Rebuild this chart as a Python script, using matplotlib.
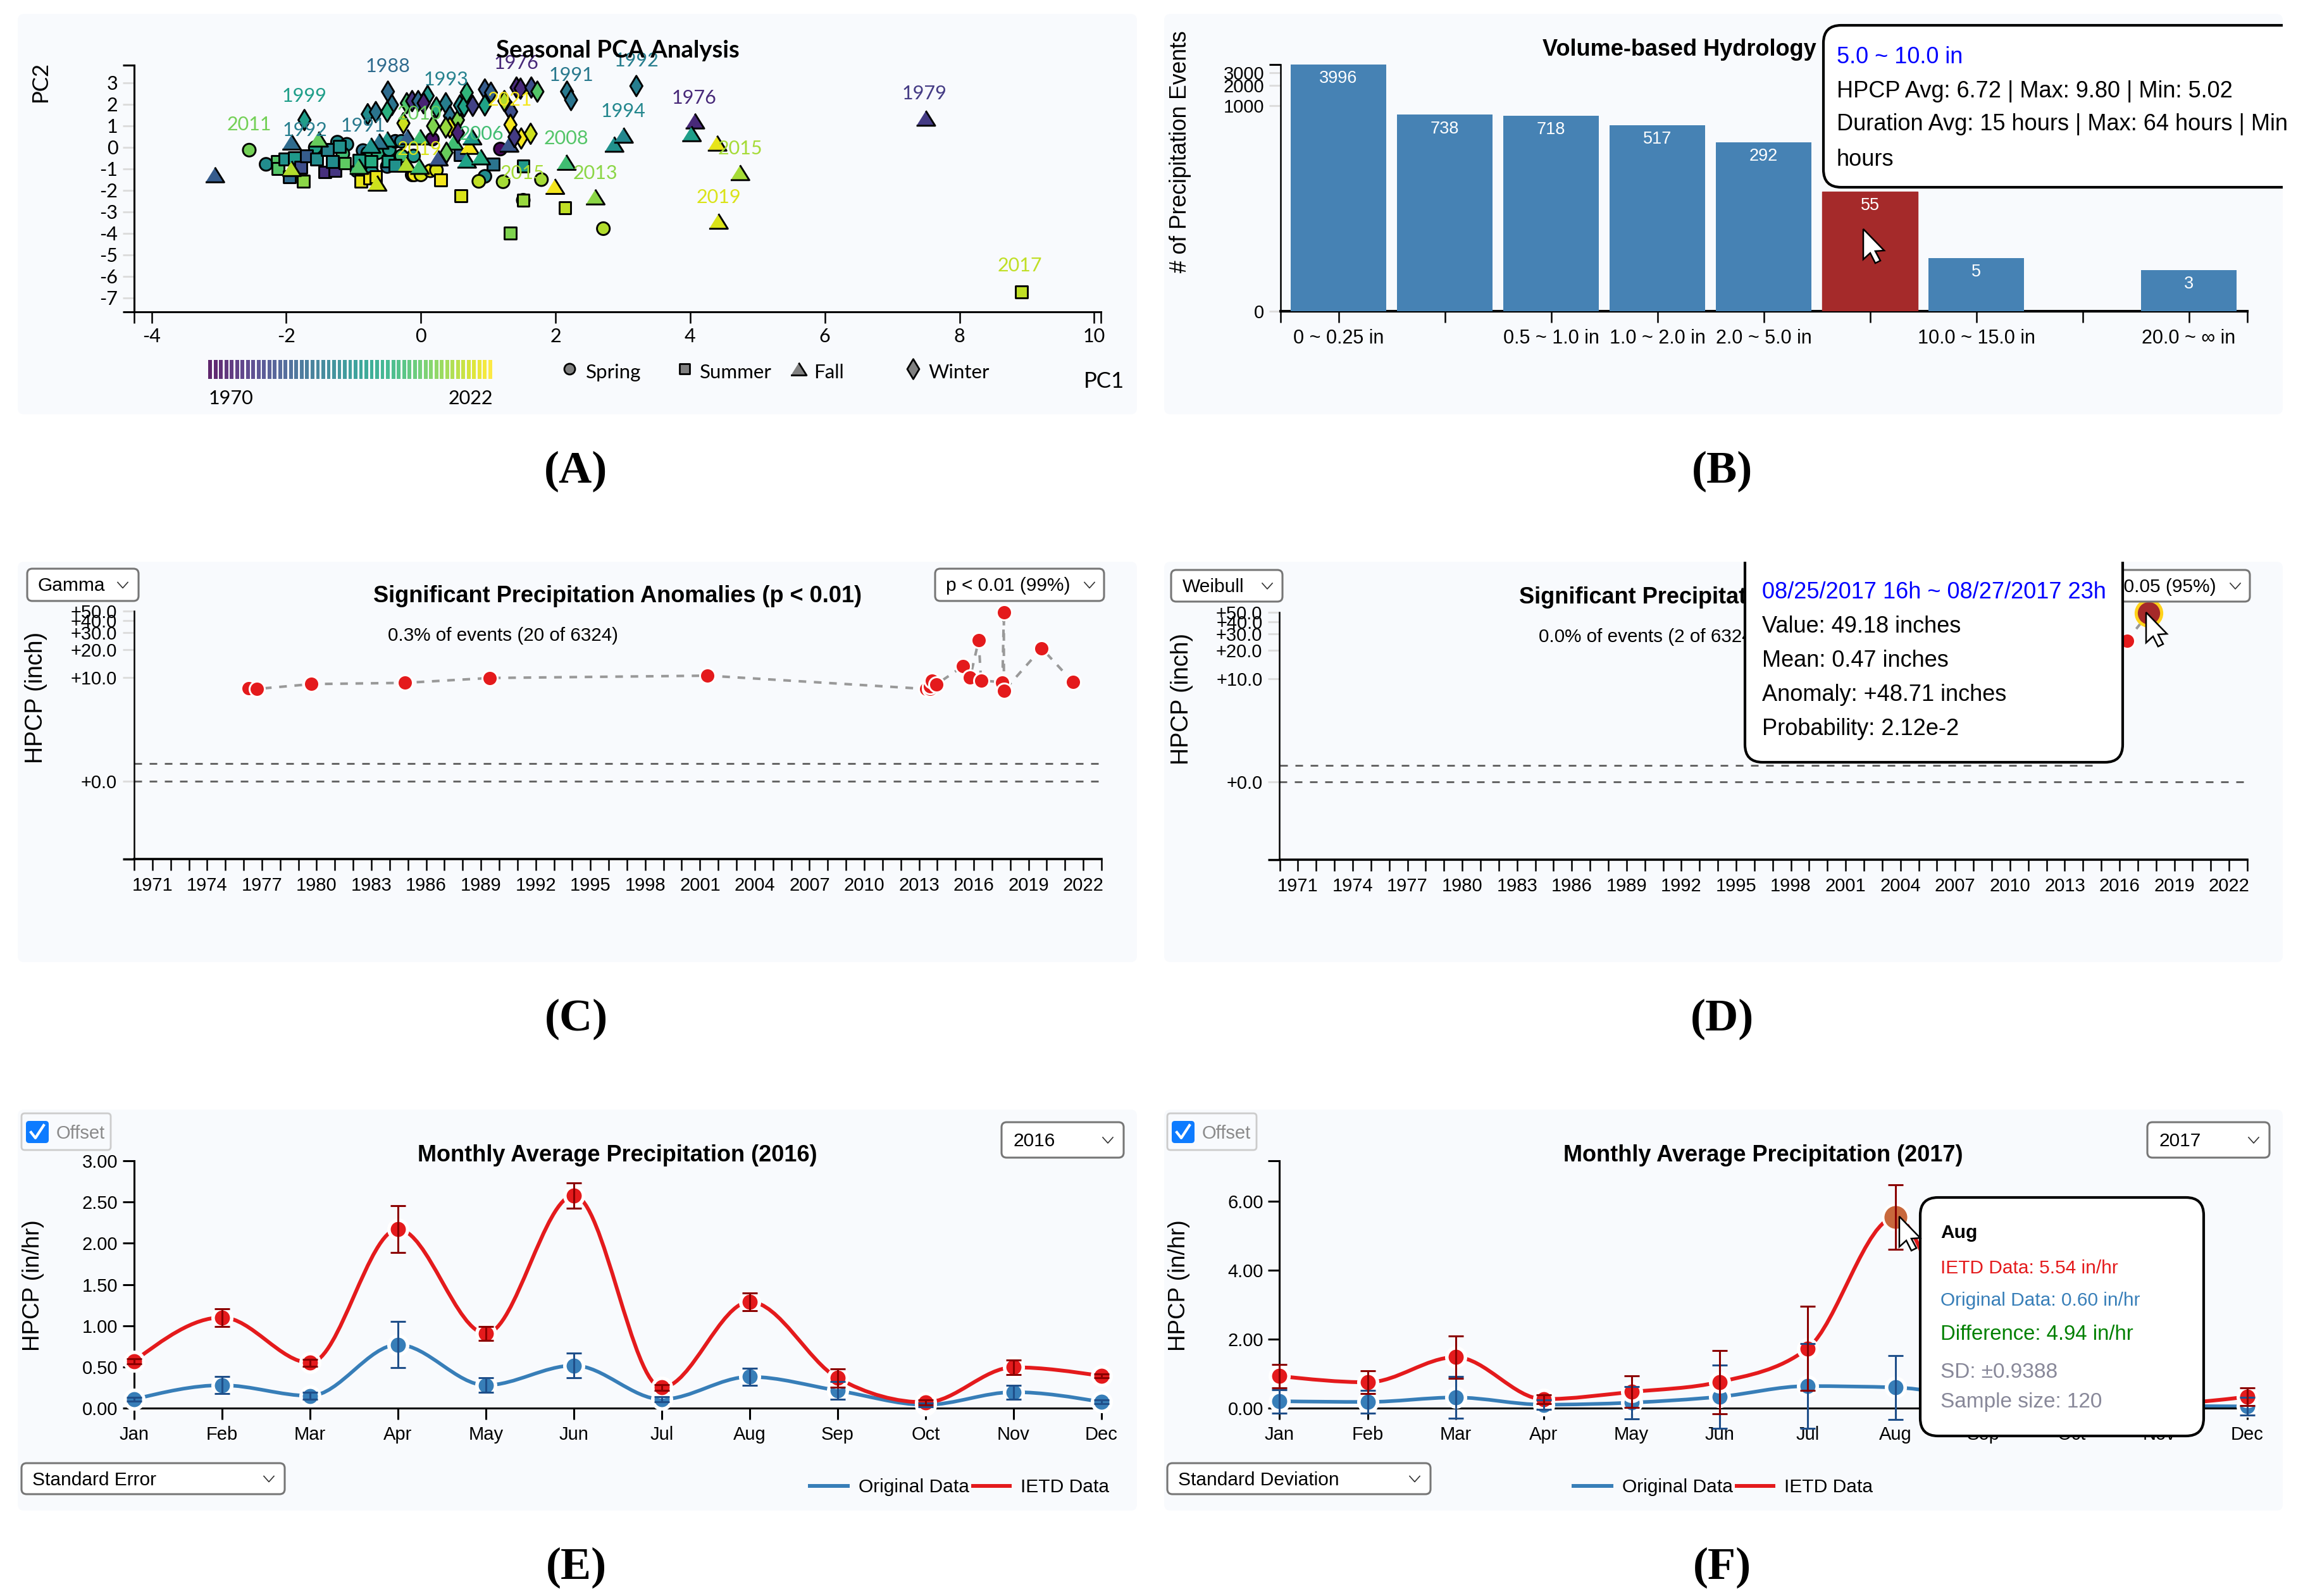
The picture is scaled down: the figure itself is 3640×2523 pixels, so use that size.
import numpy as np
import matplotlib
matplotlib.use('Agg')
from matplotlib import pyplot as plt
from matplotlib.path import Path
from matplotlib.patches import FancyBboxPatch, PathPatch, Polygon, Rectangle

plt.rcParams['font.family'] = ['Liberation Sans', 'DejaVu Sans']

W, H = 3641, 2523

# panel A: pca points per season
spring_x = [-2.55, -2.30, -1.57, -1.24, -1.10, -1.16, -0.86, -0.79, -0.64, -0.47, -0.38, -0.29, -0.95, -0.73, -0.50, -0.13, -0.10, 0.0, 0.14, 0.23, 0.17, 1.18, 0.95, 0.86, 1.22, 1.79, 2.71, 1.52, -0.11, -0.29]
spring_y = [-0.13, -0.79, -0.01, 0.24, 0.14, -0.30, -0.15, -0.27, -0.25, -0.11, 0.28, 0.28, -1.09, -1.14, -0.89, -1.28, -1.28, -1.28, -1.09, -1.06, 0.38, -0.08, -1.35, -1.58, -1.60, -1.50, -3.78, -2.46, -0.40, -0.40]
spring_year = [2011, 1995, 2000, 1995, 1995, 2006, 1990, 2004, 2003, 1998, 1988, 1994, 2000, 1997, 1990, 1975, 2021, 2019, 2021, 2019, 1972, 1971, 1995, 2017, 2015, 2015, 2016, 2012, 1998, 2006]

summer_x = [-2.13, -2.12, -2.02, -1.88, -1.95, -1.75, -1.78, -1.70, -1.55, -1.43, -1.28, -1.21, -1.31, -1.39, -1.13, -0.92, -0.74, -0.89, -0.76, -0.67, -0.49, -0.38, 0.29, 0.58, 1.07, 1.52, 0.59, 1.52, 2.14, 1.33, 8.92]
summer_y = [-0.65, -1.0, -0.55, -0.50, -1.38, -1.58, -0.94, -0.40, -0.55, -1.15, -1.09, 0.04, -0.67, -0.11, -0.74, -0.60, -0.65, -1.58, -1.43, -1.38, -0.65, -0.84, -1.53, -0.35, -0.77, -0.86, -2.26, -2.46, -2.81, -3.98, -6.72]
summer_year = [2008, 2008, 1996, 1998, 1988, 2013, 1982, 1985, 1995, 1977, 1978, 1996, 1995, 1993, 2009, 2000, 2002, 2020, 2021, 2020, 2000, 1996, 2021, 1985, 1990, 1998, 2019, 2014, 2017, 2012, 2017]

fall_x = [-3.06, -1.92, -1.52, -1.92, -0.92, -0.65, -0.21, -0.02, -0.50, -0.62, -0.74, -0.20, -0.01, 0.49, 0.72, 0.76, 0.68, 0.89, 0.26, 1.31, 2.16, 1.99, 2.59, 2.87, 3.01, 4.07, 4.02, 4.40, 4.74, 4.42, 7.50]
fall_y = [-1.28, 0.24, 0.38, -0.99, -0.89, -1.67, -0.79, -0.89, 0.38, 0.28, 0.09, 0.48, 0.48, 0.24, 0.04, 0.48, -0.60, -0.45, -0.50, 0.14, -0.70, -1.82, -2.31, 0.14, 0.56, 1.22, 0.63, 0.19, -1.18, -3.44, 1.35]
fall_year = [1985, 1988, 2010, 2016, 2008, 2018, 2016, 2006, 1998, 1990, 1997, 1986, 2006, 2006, 2021, 1998, 2000, 2002, 1984, 1984, 2006, 2021, 2013, 1996, 1994, 1976, 1999, 2020, 2015, 2019, 1979]

winter_x = [-0.49, -0.43, -0.79, -0.67, -0.50, -0.21, -0.13, -0.04, 0.10, 0.04, 0.23, 0.37, 0.43, 0.55, 0.43, 0.37, 0.18, -0.26, 0.58, 0.64, 0.77, 0.68, 0.95, 1.04, 0.95, 1.24, 1.34, 1.33, 1.42, 1.48, 1.64, 1.73, 2.17, 2.23, 3.20, -1.73, 1.49, 1.63, 1.39, 0.38, 0.55]
winter_y = [2.59, 1.97, 1.54, 1.64, 1.66, 2.05, 2.15, 2.15, 2.39, 2.05, 1.85, 2.05, 1.46, 1.27, 0.92, 0.92, 0.99, 1.12, 1.95, 1.90, 1.93, 2.54, 2.69, 2.54, 1.95, 2.15, 1.66, 1.05, 2.78, 2.73, 2.78, 2.59, 2.59, 2.20, 2.85, 1.27, 0.41, 0.63, 0.48, -0.25, 0.68]
winter_year = [1988, 1990, 1995, 1990, 2003, 2007, 1978, 1988, 1998, 1975, 2003, 1992, 1990, 2012, 2020, 2014, 2012, 2018, 1995, 2000, 1980, 2004, 1985, 1986, 2000, 2016, 1982, 2021, 1976, 1976, 1982, 2008, 1991, 1990, 1992, 1999, 2021, 2018, 1979, 2010, 1975]

label_year = [1988, 1993, 1976, 1992, 1991, 1999, 2021, 2010, 1976, 1979, 1994, 2011, 1992, 1991, 2006, 2008, 2015, 2019, 2015, 2013, 2019, 2017]
label_x = [-0.49, 0.37, 1.42, 3.20, 2.23, -1.73, 1.32, -0.02, 4.06, 7.48, 3.00, -2.55, -1.72, -0.86, 0.90, 2.16, 4.74, -0.02, 1.51, 2.59, 4.42, 8.90]
label_y = [3.77, 3.15, 3.92, 4.04, 3.36, 2.37, 2.20, 1.57, 2.29, 2.50, 1.66, 1.05, 0.80, 1.01, 0.61, 0.41, -0.07, -0.10, -1.22, -1.22, -2.32, -5.49]

# panel B: events per volume bin
bin_names = ['0 ~ 0.25 in', '', '0.5 ~ 1.0 in', '1.0 ~ 2.0 in', '2.0 ~ 5.0 in', '', '10.0 ~ 15.0 in', '', '20.0 ~ ∞ in']
bin_counts = [3996, 738, 718, 517, 292, 55, 5, 0, 3]

# panel C and D: anomalies
anom_year = [1976.28, 1976.72, 1979.71, 1984.84, 1989.49, 2001.42, 2013.4, 2013.6, 2013.62, 2013.7, 2013.95, 2015.4, 2015.8, 2016.27, 2016.4, 2017.57, 2017.65, 2017.65, 2019.72, 2021.43]
anom_val = [7.6, 7.42, 8.42, 8.7, 9.85, 10.45, 7.42, 7.4, 8.0, 9.14, 8.35, 13.2, 9.9, 24.9, 9.26, 8.83, 48.7, 7.05, 20.6, 8.9]
weib_year = [2016.4, 2017.6]
weib_val = [25.3, 49.18]
hpcp_ticks = [0, 10, 20, 30, 40, 50]
year_ticks = list(range(1970, 2024))

# panel E and F: monthly precipitation
months = ['Jan', 'Feb', 'Mar', 'Apr', 'May', 'Jun', 'Jul', 'Aug', 'Sep', 'Oct', 'Nov', 'Dec']
ietd_2016 = [0.57, 1.10, 0.55, 2.17, 0.905, 2.58, 0.25, 1.29, 0.365, 0.07, 0.495, 0.39]
ietd_2016_se = [0.03, 0.107, 0.04, 0.285, 0.087, 0.153, 0.033, 0.107, 0.108, 0.03, 0.09, 0.024]
orig_2016 = [0.107, 0.278, 0.149, 0.77, 0.278, 0.517, 0.107, 0.38, 0.213, 0.04, 0.194, 0.074]
orig_2016_se = [0.023, 0.103, 0.04, 0.28, 0.087, 0.152, 0.03, 0.105, 0.108, 0.024, 0.085, 0.023]
ietd_2017 = [0.93, 0.75, 1.48, 0.26, 0.47, 0.76, 1.73, 5.54, 0.5, 0.05, 0.1, 0.33]
ietd_2017_sd = [0.34, 0.335, 0.61, 0.13, 0.46, 0.92, 1.22, 0.94, 0.3, 0.05, 0.1, 0.26]
orig_2017 = [0.2, 0.18, 0.31, 0.1, 0.16, 0.33, 0.64, 0.60, 0.25, 0.03, 0.06, 0.05]
orig_2017_sd = [0.34, 0.33, 0.61, 0.14, 0.47, 0.92, 1.23, 0.93, 0.25, 0.03, 0.08, 0.26]

PANEL = '#f8fafd'
RED = '#e41a1c'
BLUE = '#377eb8'

fig = plt.figure(figsize=(W / 100, H / 100), dpi=100, facecolor='white')

bg = fig.add_axes([0, 0, 1, 1], zorder=-1)
bg.set(xlim=(0, W), ylim=(H, 0))
bg.axis('off')
ov = fig.add_axes([0, 0, 1, 1], zorder=5)
ov.set(xlim=(0, W), ylim=(H, 0))
ov.axis('off')
ov.patch.set_alpha(0)


def pixel_axes(l, t, r, b):
    ax = fig.add_axes([l / W, 1 - b / H, (r - l) / W, (b - t) / H], zorder=2)
    ax.patch.set_alpha(0)
    ax.spines[['top', 'right']].set_visible(False)
    return ax


def txt(x, y, s, size=21.5, color='black', ha='left', va='center', **kw):
    return ov.text(x, y, s, fontsize=size, color=color, ha=ha, va=va, **kw)


def dropdown(l, t, r, b, label, text_x, chevron_x):
    ov.add_patch(FancyBboxPatch((l, t), r - l, b - t, boxstyle='round,pad=0,rounding_size=8',
                                fc='white', ec='#767676', lw=2.2))
    cy = (t + b) / 2
    ov.plot([chevron_x - 8, chevron_x, chevron_x + 8], [cy - 4, cy + 5, cy - 4], color='#333333', lw=1.2)
    if label:
        txt(text_x, cy + 2, label)


def cursor(x, y, s=1.0):
    shape = [(0, 0), (0, 48), (11, 38), (19, 54), (27, 50), (19, 35), (33, 34)]
    pts = [(x + px * s, y + py * s) for px, py in shape]
    ov.add_patch(Polygon(pts, closed=True, fc='white', ec='black', lw=1.8, zorder=8))


def tooltip(l, t, r, b, clip):
    box = FancyBboxPatch((l, t), r - l, b - t, boxstyle='round,pad=0,rounding_size=28',
                         fc='white', ec='black', lw=3, zorder=6)
    ov.add_patch(box)
    box.set_clip_path(clip)


def monotone_path(x, y):
    # same curve as d3.curveMonotoneX
    x = np.asarray(x, float)
    y = np.asarray(y, float)
    h = np.diff(x)
    s = np.diff(y) / h
    t = np.zeros(len(x))
    for i in range(1, len(x) - 1):
        p = (s[i - 1] * h[i] + s[i] * h[i - 1]) / (h[i - 1] + h[i])
        t[i] = (np.sign(s[i - 1]) + np.sign(s[i])) * min(abs(s[i - 1]), abs(s[i]), 0.5 * abs(p))
    t[0] = (3 * s[0] - t[1]) / 2
    t[-1] = (3 * s[-1] - t[-2]) / 2
    verts = [(x[0], y[0])]
    codes = [Path.MOVETO]
    for i in range(len(x) - 1):
        d = h[i] / 3
        verts += [(x[i] + d, y[i] + d * t[i]), (x[i + 1] - d, y[i + 1] - d * t[i + 1]), (x[i + 1], y[i + 1])]
        codes += [Path.CURVE4] * 3
    return Path(verts, codes)


# panel backgrounds and letters
panels = {'(A)': (28, 22, 1797, 655), '(B)': (1840, 22, 3608, 655),
          '(C)': (28, 888, 1797, 1521), '(D)': (1840, 888, 3608, 1521),
          '(E)': (28, 1754, 1797, 2388), '(F)': (1840, 1754, 3608, 2388)}
for name, (l, t, r, b) in panels.items():
    bg.add_patch(FancyBboxPatch((l, t), r - l, b - t, boxstyle='round,pad=0,rounding_size=10', fc=PANEL, ec='none'))
    txt((l + r) / 2 - 2, b + 90, name, size=52, ha='center', family='Liberation Serif', weight='bold')

# A
TRI = [(-1, -0.8), (1, -0.8), (0, 0.8)]
LATO = 'Lato'
ax = pixel_axes(212, 103, 1740, 493)
ax.set(xlim=(-4.26, 10.1), ylim=(-7.65, 3.82))
vnorm = dict(cmap='viridis', vmin=1970, vmax=2022, edgecolors='black', linewidths=2.1, clip_on=False)
ax.scatter(spring_x, spring_y, c=spring_year, marker='o', s=210, **vnorm)
ax.scatter(summer_x, summer_y, c=summer_year, marker='s', s=185, **vnorm)
ax.scatter(fall_x, fall_y, c=fall_year, marker=TRI, s=450, **vnorm)
ax.scatter(winter_x, winter_y, c=winter_year, marker='d', s=270, **vnorm)
cmap = plt.get_cmap('viridis')
for yr, lx, ly in zip(label_year, label_x, label_y):
    ax.text(lx, ly, str(yr), fontsize=22, family=LATO, color=cmap((yr - 1970) / 52), ha='center', va='center')
ax.set_xticks(range(-4, 11, 2))
ax.set_yticks(range(-7, 4))
ax.set_yticklabels([str(v) for v in range(-7, 4)], family=LATO)
ax.set_xticklabels([str(v) for v in range(-4, 11, 2)], family=LATO)
ax.tick_params(axis='x', length=13, width=1.8, labelsize=22, pad=5)
ax.tick_params(axis='y', length=13, width=2.2, color='#dddddd', labelsize=22, pad=5.5)
ax.set_xticks([-4.26, 10.1], minor=True)
ax.set_yticks([-7.65, 3.82], minor=True)
ax.tick_params(axis='x', which='minor', length=13, width=1.8)
ax.tick_params(axis='y', which='minor', length=13, width=2.2)
ax.spines[['left', 'bottom']].set_linewidth(2.2)
txt(976, 80, 'Seasonal PCA Analysis', size=27.5, ha='center', family=LATO, weight='bold')
txt(64, 129, 'PC2', size=25, ha='center', rotation=90, family=LATO)
txt(1745, 603, 'PC1', size=25, ha='center', family=LATO)

bar_years = list(range(1970, 2023))
cb = pixel_axes(329, 569, 778, 599)
cb.bar(bar_years, [1] * len(bar_years), width=0.7, color=[cmap((y - 1970) / 52) for y in bar_years], alpha=0.85)
cb.set(xlim=(1969.6, 2022.4), ylim=(0, 1))
cb.axis('off')
txt(365, 630, '1970', size=22, ha='center', family=LATO)
txt(744, 630, '2022', size=22, ha='center', family=LATO)
leg = [('o', 900, 'Spring', 926, 150), ('s', 1082, 'Summer', 1106, 130), (TRI, 1262, 'Fall', 1286, 320), ('d', 1443, 'Winter', 1468, 260)]
for mk, mx, name, tx, sz in leg:
    ov.scatter([mx], [583], marker=mk, s=sz, c='#808080', edgecolors='black', linewidths=2)
    txt(tx, 589, name, size=22.5, family=LATO)

# B
ax = pixel_axes(2024, 102, 3552, 492)
ax.set_yscale('function', functions=(np.log1p, np.expm1))
ax.set(xlim=(-0.545, 8.55), ylim=(0, 3996))
bar_pos = list(range(len(bin_counts)))
bars = ax.bar(bar_pos, bin_counts, width=0.9, color='#4682b4', zorder=3)
bars[5].set_color('#a52a2a')
for i, v in zip(bar_pos, bin_counts):
    if v > 0:
        ax.annotate(str(v), (i, v), xytext=(0, -16), textcoords='offset points', ha='center', va='center',
                    color='white', fontsize=19.5, zorder=4)
ax.set_xticks(bar_pos)
ax.set_xticklabels(bin_names)
ax.set_yticks([0, 1000, 2000, 3000])
ax.set_yticklabels(['0', '1000', '2000', '3000'])
ax.tick_params(axis='x', length=13, width=1.8, labelsize=22, pad=7)
ax.tick_params(axis='y', length=13, width=2.2, color='#dddddd', labelsize=21, pad=5.5)
ax.yaxis.set_minor_locator(matplotlib.ticker.NullLocator())
ax.set_xticks([-0.545, 8.55], minor=True)
ax.set_yticks([3996], minor=True)
ax.set_yticklabels([''], minor=True)
ax.tick_params(axis='x', which='minor', length=13, width=1.8)
ax.tick_params(axis='y', which='minor', length=13, width=2.2)
ax.spines['bottom'].set_linewidth(3)
ax.spines['left'].set_linewidth(1.8)
txt(2654, 78, 'Volume-based Hydrology', size=26, ha='center', weight='bold')
txt(1866, 240, '# of Precipitation Events', size=25.6, ha='center', rotation=90)
clipB = Rectangle((1840, 22), 1768, 633, transform=ov.transData)
tooltip(2882, 40, 3700, 296, clipB)
for ty, s, c in [(90, '5.0 ~ 10.0 in', 'blue'), (144, 'HPCP Avg: 6.72 | Max: 9.80 | Min: 5.02', 'black'),
                 (197, 'Duration Avg: 15 hours | Max: 64 hours | Min', 'black'), (253, 'hours', 'black')]:
    t = txt(2903, ty, s, size=26, color=c, zorder=7)
    t.set_clip_path(clipB)
cursor(2945, 362)


def anomaly_axes(l, t, r, b):
    def fwd(v):
        v = np.asarray(v, float)
        return np.sign(v) * np.log10(1 + np.abs(v))

    def inv(v):
        v = np.asarray(v, float)
        return np.sign(v) * (10 ** np.abs(v) - 1)

    a = pixel_axes(l, t, r, b)
    a.set_yscale('function', functions=(fwd, inv))
    a.set(xlim=(1970, 2023), ylim=(-5.07, 50))
    a.set_xticks(year_ticks)
    a.set_xticklabels([str(y) if (y - 1971) % 3 == 0 else '' for y in year_ticks])
    a.set_yticks(hpcp_ticks)
    a.set_yticklabels(['+%.1f' % v for v in hpcp_ticks])
    a.yaxis.set_minor_locator(matplotlib.ticker.NullLocator())
    a.tick_params(axis='x', length=13, width=1.8, labelsize=21, pad=7)
    a.tick_params(axis='y', length=13, width=2.2, color='#dddddd', labelsize=21, pad=6.5)
    a.set_yticks([-5.07], minor=True)
    a.set_yticklabels([''], minor=True)
    a.tick_params(axis='y', which='minor', length=13, width=2.5)
    a.spines['bottom'].set_linewidth(2.6)
    a.spines['left'].set_linewidth(1.8)
    a.axhline(0, color='#666666', lw=2.16, dashes=(4, 4), zorder=1)
    return a


# C
ax = anomaly_axes(212, 966, 1741, 1358)
ax.axhline(0.5, color='#666666', lw=2.16, dashes=(4, 4), zorder=1)
ax.plot(anom_year, anom_val, color='#999999', lw=2.9, dashes=(3, 3), zorder=2)
ax.plot(anom_year, anom_val, 'o', ms=17.3, mfc=RED, mec='white', mew=2.16, zorder=3, clip_on=False)
txt(976, 943, 'Significant Precipitation Anomalies (p < 0.01)', size=26, ha='center', weight='bold')
txt(795, 1005, '0.3% of events (20 of 6324)', size=21.3, ha='center')
txt(57, 1103, 'HPCP (inch)', size=27, ha='center', rotation=90)
dropdown(43, 899, 219, 950, 'Gamma', 60, 194)
dropdown(1478, 899, 1745, 950, 'p < 0.01 (99%)', 1495, 1722)

# D
ax = anomaly_axes(2022.5, 968, 3552, 1359)
ax.plot([1970, 2014.7], [0.47, 0.47], color='#666666', lw=2.16, dashes=(4, 4), zorder=1)
ax.plot(weib_year, weib_val, color='#999999', lw=2.9, dashes=(3, 3), zorder=2)
ax.plot(weib_year[:1], weib_val[:1], 'o', ms=17.3, mfc=RED, mec='white', mew=2.16, zorder=3)
ax.plot(weib_year[1:], weib_val[1:], 'o', ms=29, mfc='#a52a2a', mec='#ffd21a', mew=3.6, zorder=3, clip_on=False)
txt(2787, 944, 'Significant Precipitation Anomalies (p < 0.05)', size=26, ha='center', weight='bold')
txt(2606, 1007, '0.0% of events (2 of 6324)', size=21.3, ha='center')
txt(1868, 1105, 'HPCP (inch)', size=27, ha='center', rotation=90)
dropdown(1851, 901, 2027, 951, 'Weibull', 1869, 2003)
dropdown(3289, 901, 3556, 951, 'p < 0.05 (95%)', 3306, 3533)
clipD = Rectangle((1840, 888), 1768, 633, transform=ov.transData)
tooltip(2758, 840, 3355, 1205, clipD)
for ty, s, c in [(936, '08/25/2017 16h ~ 08/27/2017 23h', 'blue'), (991, 'Value: 49.18 inches', 'black'),
                 (1045, 'Mean: 0.47 inches', 'black'), (1098, 'Anomaly: +48.71 inches', 'black'),
                 (1152, 'Probability: 2.12e-2', 'black')]:
    txt(2785, ty, s, size=26, color=c, zorder=7)
cursor(3392, 968)


def month_axes(l, r, ylim, ticks, orig, orig_err, ietd, ietd_err, hover=None):
    a = pixel_axes(l, 1835, r, 2226)
    a.set(xlim=(0, 11), ylim=ylim)
    pos = list(range(12))
    a.add_patch(PathPatch(monotone_path(pos, orig), fc='none', ec=BLUE, lw=4.1, zorder=2, capstyle='round'))
    a.add_patch(PathPatch(monotone_path(pos, ietd), fc='none', ec=RED, lw=4.3, zorder=2, capstyle='round'))
    a.plot(pos, orig, 'o', ms=21.2, mfc=BLUE, mec='white', mew=4, zorder=3, clip_on=False)
    a.plot(pos, ietd, 'o', ms=21.2, mfc=RED, mec='white', mew=4, zorder=4, clip_on=False)
    if hover is not None:
        a.plot([hover], [ietd[hover]], 'o', ms=29, mfc='#c8683c', mec='white', mew=3, zorder=4)
    a.errorbar(pos, orig, yerr=orig_err, fmt='none', ecolor='#1f4f8a', elinewidth=2.2, capsize=8.6, capthick=2.2, zorder=5, clip_on=False)
    a.errorbar(pos, ietd, yerr=ietd_err, fmt='none', ecolor='#8b0000', elinewidth=2.2, capsize=8.6, capthick=2.2, zorder=6, clip_on=False)
    a.set_xticks(pos)
    a.set_xticklabels(months)
    a.set_yticks(ticks)
    a.set_yticklabels(['%.2f' % v for v in ticks])
    a.tick_params(axis='x', length=13, width=2.2, labelsize=21, pad=7)
    a.tick_params(axis='y', length=13, width=2.2, labelsize=21, pad=5.5)
    a.set_yticks([ylim[1]], minor=True)
    a.set_yticklabels([''], minor=True)
    a.tick_params(axis='y', which='minor', length=13, width=2.2)
    a.spines['bottom'].set_linewidth(2.2)
    a.spines['left'].set_linewidth(2.2)
    return a


def month_furniture(dx, year, err_name, leg_x):
    ov.add_patch(FancyBboxPatch((34 + dx, 1760), 141, 58, boxstyle='round,pad=0,rounding_size=5', fc=PANEL, ec='#cccccc', lw=2))
    ov.add_patch(FancyBboxPatch((41 + dx, 1772), 36, 35, boxstyle='round,pad=0,rounding_size=5', fc='#0d7bff', ec='none'))
    ov.plot([49 + dx, 56 + dx, 69 + dx], [1790, 1799, 1779], color='white', lw=3)
    txt(89 + dx, 1792, 'Offset', size=21, color='#8a8a8a')
    txt(976 + dx, 1827, 'Monthly Average Precipitation (%d)' % year, size=26, ha='center', weight='bold')
    txt(53 + dx, 2032, 'HPCP (in/hr)', size=26.5, ha='center', rotation=90)
    dropdown(1583 + dx, 1774, 1776 + dx, 1830, str(year), 1602 + dx, 1751 + dx)
    dropdown(34 + dx, 2313, 450 + dx, 2362, err_name, 51 + dx, 425 + dx)
    ov.plot([leg_x, leg_x + 60], [2349, 2349], color=BLUE, lw=4.3)
    txt(leg_x + 77, 2351, 'Original Data', size=21.6)
    ov.plot([leg_x + 258, leg_x + 316], [2349, 2349], color=RED, lw=4.3)
    txt(leg_x + 333, 2351, 'IETD Data', size=21.6)


# E
month_axes(212, 1741, (0, 3.0), [0, 0.5, 1, 1.5, 2, 2.5, 3], orig_2016, orig_2016_se, ietd_2016, ietd_2016_se)
month_furniture(0, 2016, 'Standard Error', 1280)

# F
month_axes(2022.5, 3552, (0, 7.18), [0, 2, 4, 6], orig_2017, orig_2017_sd, ietd_2017, ietd_2017_sd, hover=7)
month_furniture(1811, 2017, 'Standard Deviation', 2487)
clipF = Rectangle((1840, 1754), 1768, 634, transform=ov.transData)
tooltip(3035, 1893, 3483, 2270, clipF)
for ty, s, c, sz, wt in [(1949, 'Aug', 'black', 21.5, 'bold'), (2005, 'IETD Data: 5.54 in/hr', RED, 21.5, 'normal'),
                         (2056, 'Original Data: 0.60 in/hr', BLUE, 21.5, 'normal'),
                         (2110, 'Difference: 4.94 in/hr', 'green', 23.7, 'normal'),
                         (2170, 'SD: ±0.9388', '#888899', 24, 'normal'), (2217, 'Sample size: 120', '#888899', 24, 'normal')]:
    txt(3067, ty, s, size=sz, color=c, weight=wt, zorder=7)
cursor(3002, 1923)

fig.savefig('out.png', dpi=100)
